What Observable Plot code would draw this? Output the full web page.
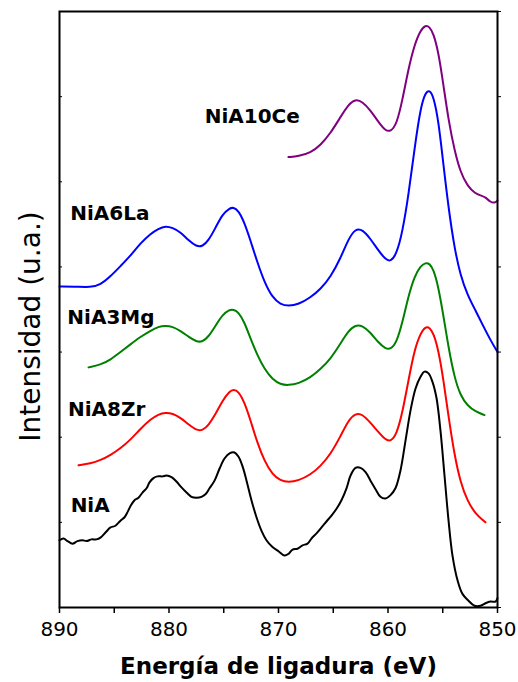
<!DOCTYPE html>
<html>
<head>
<meta charset="utf-8">
<script src="https://cdn.jsdelivr.net/npm/d3@7"></script>
<script src="https://cdn.jsdelivr.net/npm/@observablehq/plot@0.6"></script>
<style>
  html, body { margin: 0; padding: 0; background: #fff; }
</style>
</head>
<body>
<div id="chart"></div>
<script>
// Ni 2p XPS spectra, stacked with vertical offsets (intensity in arbitrary units)
const niA_E = [890.00, 889.63, 889.27, 888.81, 888.36, 887.90, 887.53, 887.08, 886.62, 886.26, 885.80, 885.34, 884.89, 884.43, 884.06, 883.79, 883.52, 883.15, 882.79, 882.42, 882.05, 881.78, 881.42, 881.05, 880.59, 880.23, 879.77, 879.32, 878.86, 878.40, 877.95, 877.49, 877.03, 876.67, 876.30, 875.84, 875.39, 874.93, 874.47, 874.02, 873.65, 873.29, 872.92, 872.47, 872.01, 871.55, 871.10, 870.55, 870.00, 869.45, 869.09, 868.72, 868.27, 867.81, 867.35, 866.99, 866.53, 866.07, 865.62, 865.16, 864.70, 864.25, 863.79, 863.42, 862.97, 862.51, 862.05, 861.60, 861.14, 860.69, 860.23, 859.77, 859.32, 858.86, 858.40, 857.95, 857.49, 857.03, 856.67, 856.30, 855.94, 855.57, 855.21, 854.84, 854.47, 854.11, 853.65, 853.20, 852.65, 852.10, 851.55, 851.10, 850.64, 850.18, 850.00];
const niA_I = [0.79, 0.81, 0.78, 0.75, 0.78, 0.79, 0.78, 0.80, 0.80, 0.82, 0.88, 0.94, 0.96, 1.02, 1.06, 1.12, 1.19, 1.26, 1.29, 1.35, 1.40, 1.47, 1.52, 1.54, 1.54, 1.55, 1.53, 1.48, 1.41, 1.35, 1.30, 1.29, 1.30, 1.33, 1.40, 1.49, 1.63, 1.75, 1.81, 1.82, 1.77, 1.66, 1.49, 1.26, 1.06, 0.90, 0.79, 0.71, 0.66, 0.61, 0.63, 0.68, 0.69, 0.73, 0.75, 0.81, 0.87, 0.94, 1.01, 1.08, 1.16, 1.26, 1.40, 1.55, 1.64, 1.64, 1.59, 1.49, 1.39, 1.30, 1.28, 1.32, 1.40, 1.61, 1.96, 2.31, 2.57, 2.71, 2.77, 2.75, 2.65, 2.46, 2.08, 1.55, 1.02, 0.61, 0.32, 0.16, 0.08, 0.02, 0.02, 0.05, 0.07, 0.07, 0.11];

const niA8Zr_E = [888.26, 887.17, 886.26, 885.34, 884.43, 883.52, 882.60, 881.69, 880.96, 880.32, 879.68, 878.95, 878.22, 877.49, 876.94, 876.39, 875.75, 875.11, 874.47, 874.11, 873.65, 873.11, 872.56, 871.92, 871.28, 870.55, 869.82, 869.09, 868.17, 867.08, 866.16, 865.25, 864.34, 863.61, 862.97, 862.33, 861.60, 860.87, 860.23, 859.77, 859.22, 858.68, 858.13, 857.58, 857.03, 856.58, 856.21, 855.84, 855.39, 854.93, 854.47, 853.93, 853.38, 852.74, 852.01, 851.28, 851.10];
const niA8Zr_I = [1.67, 1.69, 1.73, 1.79, 1.87, 1.97, 2.10, 2.21, 2.27, 2.29, 2.28, 2.23, 2.15, 2.08, 2.08, 2.14, 2.27, 2.43, 2.54, 2.56, 2.54, 2.41, 2.20, 1.93, 1.72, 1.56, 1.49, 1.47, 1.49, 1.56, 1.66, 1.80, 2.01, 2.20, 2.28, 2.27, 2.17, 2.06, 1.97, 1.95, 2.03, 2.29, 2.67, 3.03, 3.22, 3.30, 3.29, 3.22, 3.02, 2.67, 2.24, 1.79, 1.47, 1.25, 1.10, 1.02, 1.00];

const niA3Mg_E = [887.35, 886.26, 885.34, 884.43, 883.52, 882.60, 881.69, 880.96, 880.32, 879.68, 878.95, 878.22, 877.49, 876.94, 876.39, 875.75, 875.11, 874.47, 874.11, 873.65, 873.11, 872.56, 871.92, 871.28, 870.55, 869.82, 869.09, 868.17, 867.08, 866.16, 865.25, 864.34, 863.61, 862.97, 862.33, 861.60, 860.87, 860.23, 859.77, 859.22, 858.68, 858.13, 857.58, 857.03, 856.58, 856.21, 855.84, 855.39, 854.93, 854.47, 853.93, 853.38, 852.74, 852.01, 851.19];
const niA3Mg_I = [2.82, 2.85, 2.91, 3.00, 3.09, 3.18, 3.25, 3.30, 3.31, 3.30, 3.25, 3.18, 3.12, 3.12, 3.18, 3.31, 3.44, 3.50, 3.50, 3.47, 3.35, 3.16, 2.96, 2.80, 2.68, 2.62, 2.61, 2.63, 2.70, 2.80, 2.92, 3.10, 3.25, 3.32, 3.31, 3.23, 3.11, 3.04, 3.03, 3.11, 3.35, 3.66, 3.89, 4.01, 4.05, 4.04, 3.97, 3.76, 3.42, 3.05, 2.70, 2.49, 2.37, 2.30, 2.26];

const niA6La_E = [890.00, 888.54, 887.17, 886.26, 885.34, 884.43, 883.52, 882.60, 881.69, 880.96, 880.32, 879.68, 878.95, 878.22, 877.49, 876.94, 876.39, 875.75, 875.11, 874.47, 874.11, 873.65, 873.11, 872.56, 871.92, 871.28, 870.55, 869.82, 869.09, 868.17, 867.08, 866.16, 865.25, 864.34, 863.61, 862.97, 862.33, 861.60, 860.87, 860.23, 859.77, 859.22, 858.68, 858.13, 857.58, 857.03, 856.58, 856.21, 855.84, 855.39, 854.93, 854.47, 853.93, 853.38, 852.74, 852.01, 851.28, 850.64, 850.00];
const niA6La_I = [3.77, 3.77, 3.76, 3.79, 3.89, 4.01, 4.13, 4.28, 4.39, 4.45, 4.48, 4.46, 4.41, 4.31, 4.24, 4.24, 4.31, 4.46, 4.62, 4.69, 4.70, 4.66, 4.52, 4.31, 4.05, 3.82, 3.64, 3.56, 3.54, 3.56, 3.64, 3.74, 3.88, 4.10, 4.33, 4.45, 4.44, 4.33, 4.19, 4.09, 4.06, 4.15, 4.41, 4.84, 5.39, 5.87, 6.05, 6.08, 6.00, 5.72, 5.19, 4.69, 4.22, 3.90, 3.67, 3.49, 3.30, 3.14, 3.00];

const niA10Ce_E = [869.09, 868.17, 867.08, 866.16, 865.25, 864.34, 863.61, 862.97, 862.33, 861.60, 860.87, 860.23, 859.77, 859.22, 858.68, 858.13, 857.58, 857.03, 856.58, 856.21, 855.84, 855.39, 854.93, 854.47, 853.93, 853.38, 852.74, 852.01, 851.55, 851.10, 850.64, 850.27, 850.00];
const niA10Ce_I = [5.29, 5.30, 5.34, 5.43, 5.57, 5.76, 5.91, 5.97, 5.94, 5.84, 5.70, 5.60, 5.59, 5.67, 5.96, 6.33, 6.61, 6.78, 6.84, 6.82, 6.74, 6.52, 6.13, 5.72, 5.37, 5.11, 4.95, 4.86, 4.84, 4.82, 4.76, 4.75, 4.78];

// Sample names, colours and where each name sits (energy, intensity)
const sampleNames = ["NiA", "NiA8Zr", "NiA3Mg", "NiA6La", "NiA10Ce"];
const sampleColors = ["#000000", "#ff0000", "#008000", "#0000ff", "#800080"];
const labelE = [887.2, 885.7, 885.3, 885.4, 872.4];
const labelI = [1.20, 2.33, 3.41, 4.63, 5.76];

const xTicks = d3.range(850, 891, 5);
const yTicks = d3.range(0, 8, 1);

const energies = [niA_E, niA8Zr_E, niA3Mg_E, niA6La_E, niA10Ce_E];
const intensities = [niA_I, niA8Zr_I, niA3Mg_I, niA6La_I, niA10Ce_I];
const spectra = sampleNames.flatMap((name, k) =>
  energies[k].map((e, i) => ({sample: name, energy: e, intensity: intensities[k][i]}))
);
const labels = sampleNames.map((name, k) => ({sample: name, energy: labelE[k], intensity: labelI[k]}));

// The raw NiA spectrum keeps its noise; the doped samples are drawn as smoothed traces
const rawSpectra = spectra.filter(d => d.sample === "NiA");
const smoothSpectra = spectra.filter(d => d.sample !== "NiA");

const chart = Plot.plot({
  width: 518,
  height: 682,
  marginLeft: 59,
  marginRight: 21,
  marginTop: 11,
  marginBottom: 75,
  style: {fontFamily: "'DejaVu Sans', Verdana, sans-serif", background: "#fff", color: "#000"},
  x: {domain: [890, 850], axis: null},
  y: {domain: [0, 7], axis: null},
  color: {domain: sampleNames, range: sampleColors},
  marks: [
    Plot.line(smoothSpectra, {x: "energy", y: "intensity", z: "sample", stroke: "sample", strokeWidth: 2, curve: "basis"}),
    Plot.line(rawSpectra, {x: "energy", y: "intensity", z: "sample", stroke: "sample", strokeWidth: 2, curve: "catmull-rom"}),
    Plot.text(labels, {x: "energy", y: "intensity", text: "sample", fontSize: 20, fontWeight: "bold", fill: "#000"}),
    Plot.frame({stroke: "#000", strokeWidth: 2}),
    Plot.axisX({anchor: "bottom", ticks: xTicks, tickSize: 6, tickPadding: 8, strokeWidth: 1.5,
      tickFormat: d => (d % 10 === 0 ? String(d) : ""), fontSize: 20, label: null}),
    Plot.axisY({anchor: "left", ticks: yTicks, tickSize: -3, tickFormat: () => "", label: null}),
    Plot.axisY({anchor: "right", ticks: yTicks, tickSize: 3, tickFormat: () => "", label: null}),
    Plot.text(["Energía de ligadura (eV)"], {frameAnchor: "bottom", lineAnchor: "middle", dy: 59, fontSize: 23, fontWeight: "bold"}),
    Plot.text(["Intensidad (u.a.)"], {frameAnchor: "left", textAnchor: "middle", lineAnchor: "middle", dx: -28, dy: 17, rotate: -90, fontSize: 28})
  ]
});
document.getElementById("chart").appendChild(chart);
</script>
</body>
</html>
